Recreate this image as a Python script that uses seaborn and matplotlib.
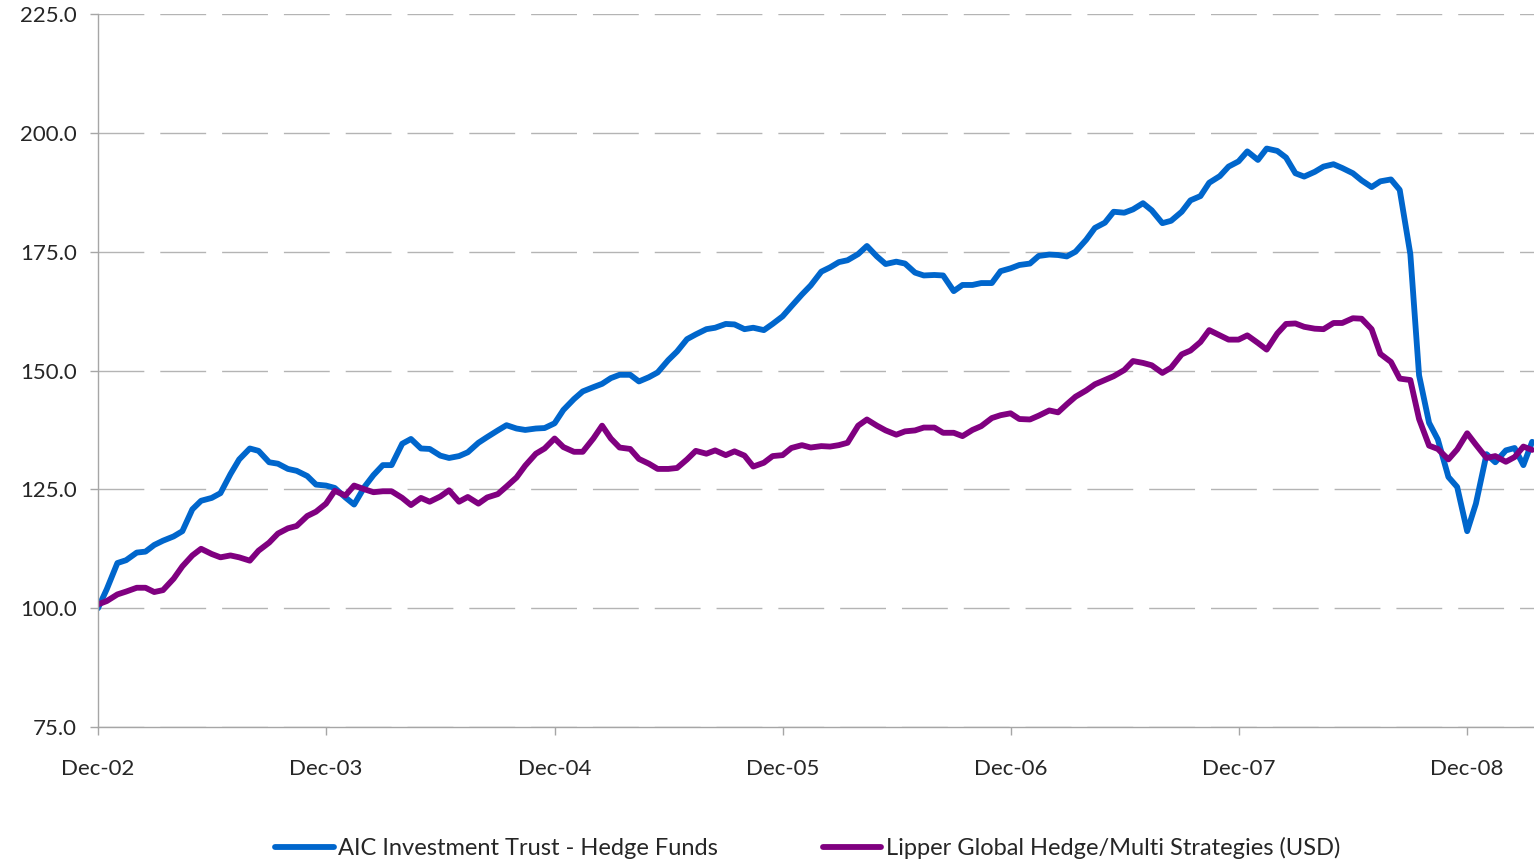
import pandas as pd
import matplotlib
matplotlib.use("Agg")
import matplotlib.pyplot as plt
import matplotlib.dates as mdates
from matplotlib.ticker import FormatStrFormatter
import seaborn as sns

# semi-monthly observation dates (1st and 15th), Dec-02 .. Mar-09
dates = pd.date_range("2002-12-01", "2009-03-15", freq="SMS")

aic = [
    100.0, 104.0, 109.5, 110.1, 111.7, 111.9, 113.3, 114.2, 115.1, 116.2,
    120.8, 122.6, 123.2, 124.2, 128.2, 131.3, 133.6, 133.1, 130.7, 130.4,
    129.3, 128.9, 127.8, 126.0, 125.8, 125.3, 123.3, 121.8, 125.6, 128.0,
    130.1, 130.1, 134.6, 135.6, 133.6, 133.5, 132.1, 131.6, 132.0, 132.8,
    134.8, 136.0, 137.4, 138.5, 137.8, 137.5, 137.8, 137.9, 138.9, 141.7,
    144.0, 145.6, 146.5, 147.2, 148.4, 149.1, 149.1, 147.7, 148.6, 149.6,
    152.2, 154.0, 156.6, 157.6, 158.7, 159.0, 159.8, 159.7, 158.7, 159.0,
    158.5, 159.8, 161.4, 163.5, 166.0, 167.9, 170.8, 171.7, 172.8, 173.2,
    174.5, 176.2, 174.0, 172.4, 172.9, 172.5, 170.6, 170.0, 170.1, 170.0,
    166.7, 168.0, 168.0, 168.4, 168.4, 170.9, 171.5, 172.2, 172.5, 174.1,
    174.4, 174.3, 174.0, 175.0, 177.5, 180.0, 181.1, 183.4, 183.2, 183.9,
    185.2, 183.7, 181.0, 181.5, 183.4, 185.8, 186.7, 189.5, 190.9, 192.9,
    194.0, 196.1, 194.3, 196.7, 196.2, 194.8, 191.5, 190.8, 191.8, 192.9,
    193.4, 192.6, 191.5, 190.0, 188.6, 189.8, 190.2, 188.0, 174.5, 149.0,
    139.0, 135.5, 127.6, 125.5, 116.2, 122.0, 132.4, 130.7, 133.2, 133.7,
    130.1, 135.0,
]

lipper = [
    100.8, 101.5, 102.9, 103.5, 104.3, 104.3, 103.4, 103.8, 106.2, 108.8,
    111.1, 112.5, 111.4, 110.7, 111.1, 110.7, 110.0, 112.1, 113.8, 115.7,
    116.8, 117.3, 119.4, 120.3, 122.0, 124.7, 123.7, 125.8, 125.0, 124.4,
    124.6, 124.6, 123.2, 121.7, 123.2, 122.4, 123.5, 124.8, 122.4, 123.4,
    122.0, 123.3, 124.0, 125.6, 127.5, 130.0, 132.5, 133.6, 135.7, 133.9,
    132.9, 132.9, 135.7, 138.4, 135.7, 133.8, 133.5, 131.4, 130.4, 129.3,
    129.3, 129.5, 131.3, 133.1, 132.5, 133.2, 132.2, 133.0, 132.1, 129.8,
    130.6, 132.0, 132.2, 133.7, 134.3, 133.8, 134.1, 134.0, 134.3, 134.8,
    138.4, 139.7, 138.4, 137.4, 136.5, 137.2, 137.4, 138.0, 138.0, 136.9,
    136.9, 136.2, 137.5, 138.3, 140.0, 140.6, 141.0, 139.8, 139.7, 140.5,
    141.6, 141.2, 142.9, 144.5, 145.8, 147.1, 148.0, 148.8, 150.1, 152.0,
    151.6, 151.1, 149.5, 150.6, 153.4, 154.2, 156.0, 158.5, 157.4, 156.5,
    156.5, 157.4, 155.8, 154.4, 157.8, 159.8, 159.9, 159.2, 158.8, 158.7,
    160.0, 160.0, 161.0, 160.9, 158.7, 153.5, 151.8, 148.3, 148.0, 139.8,
    134.2, 133.5, 131.3, 133.4, 136.8, 134.4, 131.6, 132.0, 130.8, 131.8,
    134.0, 133.3,
]

names = ["AIC Investment Trust - Hedge Funds",
         "Lipper Global Hedge/Multi Strategies (USD)"]
colors = ["#0066CC", "#800080"]

df = pd.concat([
    pd.DataFrame({"date": dates, "value": aic, "series": names[0]}),
    pd.DataFrame({"date": dates, "value": lipper, "series": names[1]}),
])

sns.set_style("white")
plt.rcParams["font.family"] = ["Lato", "DejaVu Sans"]

fig = plt.figure(figsize=(15.34, 8.65), dpi=100)
ax = fig.add_axes([0.0639, 0.1595, 0.9361, 0.8243])

sns.lineplot(data=df, x="date", y="value", hue="series", palette=colors,
             linewidth=4.2, ax=ax, legend=False)

ax.set_ylim(75, 225)
ax.set_yticks([75, 100, 125, 150, 175, 200, 225])
ax.yaxis.set_major_formatter(FormatStrFormatter("%.1f"))
ax.set_xlim(dates[0], pd.Timestamp("2009-03-18"))
ax.set_xticks([pd.Timestamp(f"{y}-12-01") for y in range(2002, 2009)])
ax.xaxis.set_major_formatter(mdates.DateFormatter("%b-%y"))
ax.set_xlabel("")
ax.set_ylabel("")

ax.yaxis.grid(True, color="#b4b4b4", linestyle=(0, (33, 11.5)), linewidth=1)
ax.set_axisbelow(True)

for s in ["top", "right"]:
    ax.spines[s].set_visible(False)
for s in ["left", "bottom"]:
    ax.spines[s].set_color("#a6a6a6")
    ax.spines[s].set_linewidth(1)

ax.tick_params(axis="y", length=6, width=1, color="#a6a6a6", pad=9,
               labelsize=16, left=True)
ax.tick_params(axis="x", length=6, width=1, color="#a6a6a6", pad=17,
               labelsize=16, bottom=True)

handles = [plt.Line2D([], [], color=c, linewidth=4.2) for c in colors]
fig.legend(handles, names, loc="center", bbox_to_anchor=(0.5267, 0.0197),
           ncol=2, frameon=False, fontsize=17, handlelength=2.46,
           handletextpad=0.2, columnspacing=4.45)

fig.savefig("out.png", dpi=100)
